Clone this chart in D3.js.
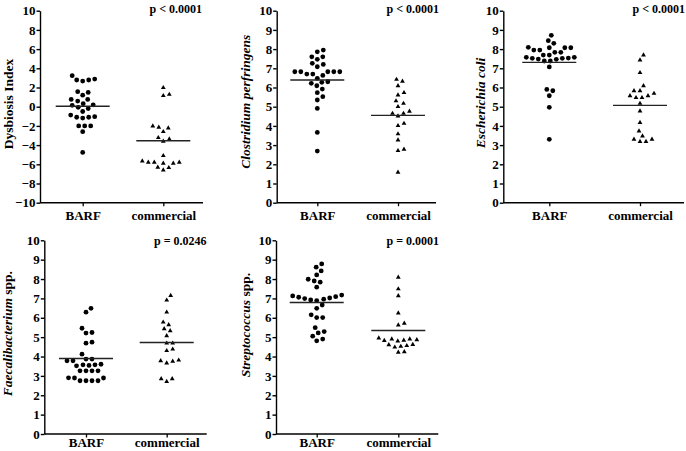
<!DOCTYPE html>
<html><head><meta charset="utf-8">
<script src="https://cdn.jsdelivr.net/npm/d3@7"></script>
<style>
html,body{margin:0;padding:0;background:#fff;}
svg{display:block;}
text{font-family:"Liberation Serif","Times New Roman",serif;font-weight:bold;fill:#000;}
</style></head>
<body>
<svg id="chart" width="686" height="451"></svg>
<script>
// ---------- DATA ----------
const categories = ["BARF", "commercial"];

const dysbiosisBARF = [3.23, 2.88, 2.78, 2.67, 2.78, 1.49, 1.56, 1.2, 0.76, 0.76, 0.59, 0.31, 0.14, 0.2, -0.2, -0.07, -0.5, -0.87, -1.1, -1.18, -1.1, -1.04, -2.0, -2.0, -2.0, -2.6, -4.76];
const dysbiosisCommercial = [1.98, 1.28, 1.15, -2.15, -2.22, -2.01, -2.6, -3.37, -3.23, -3.61, -5.1, -5.8, -5.8, -5.9, -5.9, -5.8, -5.66, -6.32, -6.35, -6.6];
const clostridiumBARF = [7.95, 7.86, 7.6, 7.47, 7.6, 7.2, 7.26, 7.08, 6.82, 6.82, 6.7, 6.82, 6.82, 6.7, 6.82, 6.63, 6.48, 6.3, 6.22, 6.27, 6.09, 5.92, 5.73, 5.52, 5.35, 4.91, 3.66, 2.69];
const clostridiumCommercial = [6.42, 6.32, 6.09, 5.73, 5.61, 5.3, 5.17, 5.0, 4.76, 4.65, 4.65, 4.51, 4.01, 4.13, 3.58, 3.26, 2.78, 2.71, 1.58];
const ecoliBARF = [8.72, 8.44, 8.3, 8.09, 8.07, 7.95, 7.83, 7.83, 7.95, 8.07, 8.07, 7.69, 7.57, 7.52, 7.47, 7.48, 7.52, 7.53, 7.57, 7.69, 7.38, 7.38, 7.07, 5.9, 5.83, 5.57, 4.97, 3.3];
const ecoliCommercial = [7.69, 7.43, 6.77, 6.09, 5.83, 5.69, 5.83, 5.47, 5.57, 5.57, 5.47, 5.17, 4.77, 4.17, 3.73, 3.3, 3.47, 3.3, 3.18, 3.18];
const faecaliBARF = [6.49, 6.29, 5.46, 5.21, 5.24, 4.74, 4.69, 4.12, 3.87, 3.87, 3.78, 3.78, 3.6, 3.57, 3.54, 3.57, 3.52, 3.26, 3.26, 3.26, 3.26, 2.9, 2.89, 2.89, 2.75, 2.75, 2.75, 2.75];
const faecaliCommercial = [7.15, 6.91, 6.29, 5.77, 5.64, 5.43, 5.33, 5.07, 4.69, 4.69, 4.38, 4.3, 3.81, 3.75, 3.78, 3.66, 2.85, 2.85, 2.71];
const streptoBARF = [8.78, 8.61, 8.42, 8.21, 7.99, 7.9, 7.84, 7.58, 7.13, 7.06, 6.99, 6.92, 6.96, 7.02, 7.09, 7.17, 6.89, 6.66, 6.49, 6.15, 6.01, 6.01, 5.49, 5.29, 5.22, 5.05, 4.81, 4.9];
const streptoCommercial = [8.09, 7.49, 7.13, 6.24, 5.71, 5.62, 4.95, 4.84, 4.9, 4.82, 4.9, 4.8, 4.86, 4.6, 4.52, 4.48, 4.56, 4.62, 4.24, 4.22];

const groupMeans = [[0.05, -3.54], [6.39, 4.55], [7.31, 5.07], [3.9, 4.72], [6.79, 5.34]];
const pValues = ["p < 0.0001", "p < 0.0001", "p < 0.0001", "p = 0.0246", "p = 0.0001"];
const yTicksDysbiosis = [-10, -8, -6, -4, -2, 0, 2, 4, 6, 8, 10];
const yTicksLog = [0, 1, 2, 3, 4, 5, 6, 7, 8, 9, 10];
// axis titles: [italic part, normal part]
const yTitles = [["", "Dysbiosis Index"], ["Clostridium perfringens", ""], ["Escherichia coli", ""], ["Faecalibacterium", " spp."], ["Streptococcus", " spp."]];

// ---------- LAYOUT ----------
const layout = [
  {left: 40, right: 203, top: 10.7, bottom: 202.7, c1: 82.7, c2: 163.3, labX: 12.5, labY: 104, pX: 202, pY: 13.3, xPad: 5},
  {left: 276.7, right: 436, top: 10.7, bottom: 202.7, c1: 317.3, c2: 398, labX: 250, labY: 101.7, pX: 439, pY: 13.3, xPad: 5},
  {left: 503.3, right: 684, top: 10.7, bottom: 202.7, c1: 549.3, c2: 640, labX: 484.5, labY: 103, pX: 685, pY: 13.3, xPad: 5},
  {left: 44.3, right: 206.7, top: 240.3, bottom: 434, c1: 86, c2: 166.7, labX: 11.5, labY: 333.7, pX: 206.5, pY: 244.5, xPad: 0.5},
  {left: 276, right: 438.3, top: 240.3, bottom: 434, c1: 316.7, c2: 398.3, labX: 250, labY: 325, pX: 439, pY: 244.5, xPad: 0.5}
];

const panelData = [
  {series: [dysbiosisBARF, dysbiosisCommercial], ticks: yTicksDysbiosis},
  {series: [clostridiumBARF, clostridiumCommercial], ticks: yTicksLog},
  {series: [ecoliBARF, ecoliCommercial], ticks: yTicksLog},
  {series: [faecaliBARF, faecaliCommercial], ticks: yTicksLog},
  {series: [streptoBARF, streptoCommercial], ticks: yTicksLog}
];

const svg = d3.select("#chart");
const SEP = 6;

function swarm(values, y, cx) {
  const idx = values.map((v, i) => i).sort((a, b) => values[a] - values[b]);
  const placed = [];
  const out = new Array(values.length);
  idx.forEach(i => {
    const py = y(values[i]);
    let best = 0;
    for (let k = 0; k < 400; k++) {
      const off = (k % 2 === 1 ? 1 : -1) * Math.ceil(k / 2) * 0.5;
      const ok = placed.every(p => Math.hypot(p.x - off, p.y - py) >= SEP);
      if (ok) { best = off; break; }
    }
    placed.push({x: best, y: py});
    out[i] = {x: cx + best, y: py};
  });
  return out;
}

layout.forEach((L, pi) => {
  const D = panelData[pi];
  const ext = d3.extent(D.ticks);
  const y = d3.scaleLinear().domain(ext).range([L.bottom, L.top]);
  const x = d3.scalePoint().domain(categories).range([L.c1, L.c2]);
  const g = svg.append("g");

  // y axis
  const ya = g.append("g").attr("transform", `translate(${L.left},0)`)
    .call(d3.axisLeft(y).tickValues(D.ticks).tickSize(3.5).tickPadding(1).tickSizeOuter(0));
  ya.select(".domain").attr("stroke", "#000").attr("stroke-width", 1.4);
  ya.selectAll(".tick line").attr("stroke", "#000").attr("stroke-width", 1.4);
  ya.selectAll(".tick text").attr("font-size", 13).attr("font-family", "Liberation Serif").attr("font-weight", "bold").attr("fill", "#000");

  // x axis
  const xa = g.append("g").attr("transform", `translate(0,${L.bottom})`)
    .call(d3.axisBottom(x).tickSize(3.5).tickPadding(L.xPad).tickSizeOuter(0));
  xa.select(".domain").remove();
  xa.selectAll(".tick line").attr("stroke", "#000").attr("stroke-width", 1.3);
  xa.selectAll(".tick text").attr("font-size", 13).attr("font-family", "Liberation Serif").attr("font-weight", "bold").attr("fill", "#000");
  g.append("line").attr("x1", L.left).attr("x2", L.right).attr("y1", L.bottom).attr("y2", L.bottom)
    .attr("stroke", "#000").attr("stroke-width", 1.4);

  // points
  D.series.forEach((vals, si) => {
    const pts = swarm(vals, y, x(categories[si]));
    if (si === 0) {
      g.selectAll(null).data(pts).join("circle")
        .attr("cx", d => d.x).attr("cy", d => d.y).attr("r", 2.4).attr("fill", "#000");
    } else {
      const tri = d3.symbol().type(d3.symbolTriangle).size(10);
      g.selectAll(null).data(pts).join("path")
        .attr("d", tri).attr("transform", d => `translate(${d.x},${d.y})`).attr("fill", "#000");
    }
    const m = groupMeans[pi][si];
    const cx = x(categories[si]);
    g.append("line").attr("x1", cx - 27).attr("x2", cx + 27).attr("y1", y(m)).attr("y2", y(m))
      .attr("stroke", "#222").attr("stroke-width", 1.4);
  });

  // y title
  const t = g.append("text").attr("transform", `translate(${L.labX},${L.labY}) rotate(-90)`)
    .attr("text-anchor", "middle").attr("font-size", 13.5);
  const [it, norm] = yTitles[pi];
  if (it) t.append("tspan").attr("font-style", "italic").text(it);
  if (norm) t.append("tspan").text(norm);

  // p value
  g.append("text").attr("x", L.pX).attr("y", L.pY).attr("text-anchor", "end")
    .attr("font-size", 12).text(pValues[pi]);
});
</script>
</body></html>
